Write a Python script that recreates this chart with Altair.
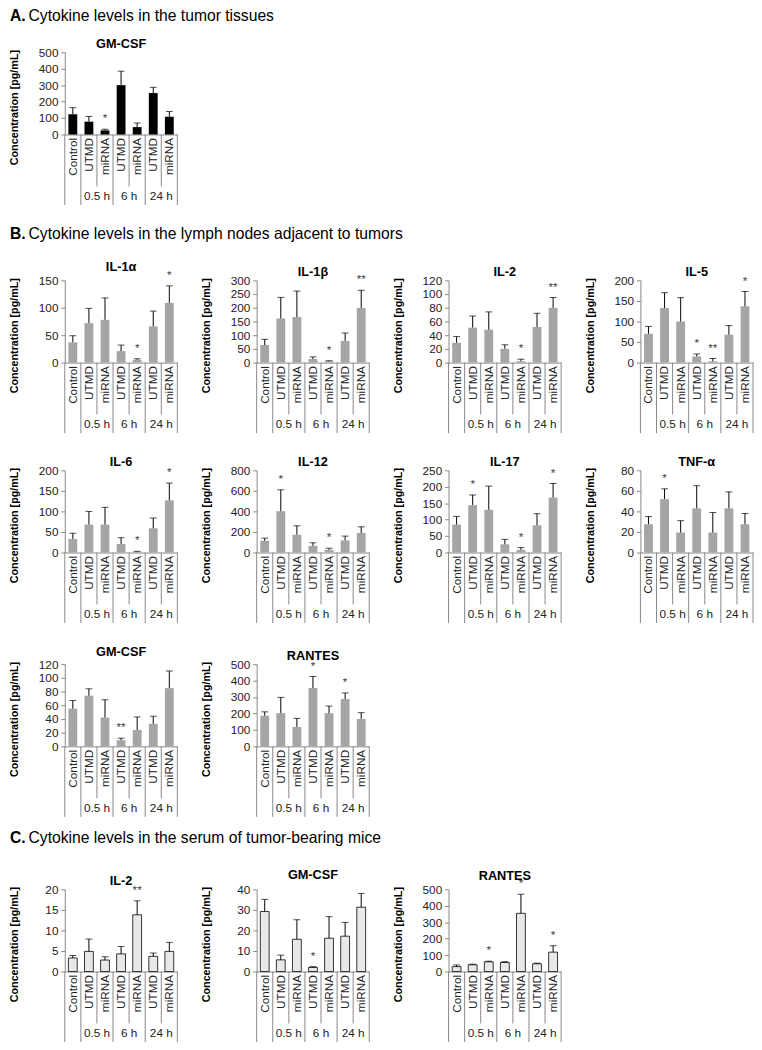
import altair as alt
import pandas as pd

FONT = "Liberation Sans"

CATS = ["Control", "UTMD", "miRNA", "UTMD", "miRNA", "UTMD", "miRNA"]
TIMES = ["", "0.5 h", "0.5 h", "6 h", "6 h", "24 h", "24 h"]
KEYS = [f"{c}|{t}" for c, t in zip(CATS, TIMES)]
GROUP_LABELS = ["0.5 h", "6 h", "24 h"]

# ---- A. tumor tissues ----
A_GMCSF_MEAN = [123, 78, 25, 300, 45, 252, 108]
A_GMCSF_ERR = [40, 32, 7, 85, 25, 35, 32]
A_GMCSF_SIG = ["", "", "*", "", "", "", ""]

# ---- B. lymph nodes ----
B_IL1A_MEAN = [37, 72, 78, 21, 5, 66, 109]
B_IL1A_ERR = [12, 27, 40, 11, 2, 28, 31]
B_IL1A_SIG = ["", "", "", "", "*", "", "*"]

B_IL1B_MEAN = [64, 161, 166, 13, 5, 79, 199]
B_IL1B_ERR = [21, 77, 95, 8, 2, 29, 65]
B_IL1B_SIG = ["", "", "", "", "*", "", "**"]

B_IL2_MEAN = [29, 51, 48, 20, 2, 52, 80]
B_IL2_ERR = [9, 17, 26, 6, 3, 20, 15]
B_IL2_SIG = ["", "", "", "", "*", "", "**"]

B_IL5_MEAN = [70, 133, 100, 15, 3, 68, 137]
B_IL5_ERR = [18, 37, 58, 6, 7, 22, 36]
B_IL5_SIG = ["", "", "", "*", "**", "", "*"]

B_IL6_MEAN = [33, 68, 68, 21, 2, 59, 127]
B_IL6_ERR = [14, 32, 42, 15, 1, 25, 42]
B_IL6_SIG = ["", "", "", "", "*", "", "*"]

B_IL12_MEAN = [114, 402, 173, 65, 26, 118, 190]
B_IL12_ERR = [26, 208, 87, 30, 16, 42, 60]
B_IL12_SIG = ["", "*", "", "", "*", "", ""]

B_IL17_MEAN = [85, 144, 130, 25, 8, 83, 167]
B_IL17_ERR = [25, 31, 72, 15, 7, 35, 43]
B_IL17_SIG = ["", "*", "", "", "*", "", "*"]

B_TNFA_MEAN = [27.5, 52, 19.5, 43, 19.5, 43, 27.5]
B_TNFA_ERR = [7.5, 10, 11.5, 22, 19.5, 16, 10.5]
B_TNFA_SIG = ["", "*", "", "", "", "", ""]

B_GMCSF_MEAN = [55, 74, 42, 9, 24, 33, 85]
B_GMCSF_ERR = [12, 10, 26, 3, 19, 11, 25]
B_GMCSF_SIG = ["", "", "", "**", "", "", ""]

B_RANTES_MEAN = [186, 202, 118, 355, 202, 288, 167]
B_RANTES_ERR = [24, 96, 52, 70, 43, 37, 38]
B_RANTES_SIG = ["", "", "", "*", "", "*", ""]

# ---- C. serum ----
C_IL2_MEAN = [3.3, 4.9, 2.8, 4.3, 13.8, 3.7, 4.9]
C_IL2_ERR = [0.6, 3.0, 0.8, 1.8, 3.4, 0.8, 2.2]
C_IL2_SIG = ["", "", "", "", "**", "", ""]

C_GMCSF_MEAN = [29.2, 5.7, 15.7, 2.0, 16.2, 17.2, 31.3]
C_GMCSF_ERR = [5.9, 2.3, 9.5, 0.4, 10.5, 6.7, 6.7]
C_GMCSF_SIG = ["", "", "", "*", "", "", ""]

C_RANTES_MEAN = [30, 41, 59, 55, 354, 47, 118]
C_RANTES_ERR = [10, 4, 4, 5, 116, 4, 39]
C_RANTES_SIG = ["", "", "*", "", "*", "", "*"]

W = 115
H = 84
LINE = "#868686"
SHORT = 53
LONG = 72
GROUP_Y = 63
LEXT = 56  # left extent of a panel (y labels + y title)


def panel(name, mean, err, sig, ymax, ystep, fill, stroke=None):
    df = pd.DataFrame({"key": KEYS, "mean": mean, "err": err, "sig": sig})
    xscale = alt.Scale(domain=KEYS, paddingInner=0, paddingOuter=0)
    xaxis = alt.Axis(title=None, labelAngle=270, labelExpr="split(datum.label, '|')[0]",
                     ticks=False, domainColor=LINE, labelFontSize=12, labelPadding=3,
                     labelColor="#222222", grid=False, labelOverlap=False, labelFont=FONT)
    yscale = alt.Scale(domain=[0, ymax], nice=False)
    yaxis = alt.Axis(title="Concentration [pg/mL]", values=list(range(0, ymax + 1, ystep)),
                     grid=False, domainColor=LINE, tickColor=LINE, tickSize=4,
                     labelFontSize=12, labelColor="#222222", labelFont=FONT, labelPadding=3,
                     titleFontSize=11, titleFontWeight="bold", titleColor="#000000",
                     titleFont=FONT, titlePadding=6, minExtent=40, maxExtent=40,
                     titleY=H / 2 + 14)

    def X(**kw):
        return alt.X("key:N", scale=xscale, axis=xaxis, **kw)

    base = alt.Chart(df).transform_calculate(upper="datum.mean + datum.err")
    bar_kw = dict(width={"band": 0.55}, fill=fill)
    if stroke:
        bar_kw.update(stroke=stroke, strokeWidth=0.8)
    bars = base.mark_bar(**bar_kw).encode(
        x=X(), y=alt.Y("mean:Q", scale=yscale, axis=yaxis))
    err_line = base.mark_rule(color="black", strokeWidth=1).encode(
        x=X(), y=alt.Y("mean:Q", scale=yscale, axis=yaxis), y2="upper:Q")
    cap = base.mark_tick(color="black", thickness=1, size=7).encode(
        x=X(), y=alt.Y("upper:Q", scale=yscale, axis=yaxis))
    stars = base.mark_text(baseline="middle", dy=-11, fontSize=12, color="#404040",
                           font=FONT).encode(
        x=X(), y=alt.Y("upper:Q", scale=yscale, axis=yaxis), text="sig:N")

    short_df = pd.DataFrame({"key": [KEYS[2], KEYS[4], KEYS[6]]})
    long_df = pd.DataFrame({"key": [KEYS[0], KEYS[1], KEYS[3], KEYS[5]]})
    end_df = pd.DataFrame({"key": [KEYS[6]]})
    grp_df = pd.DataFrame({"key": [KEYS[1], KEYS[3], KEYS[5]], "lab": GROUP_LABELS})

    sep_short = alt.Chart(short_df).mark_rule(color=LINE, strokeWidth=1).encode(
        x=X(bandPosition=0), y=alt.value(H), y2=alt.value(H + SHORT))
    sep_long = alt.Chart(long_df).mark_rule(color=LINE, strokeWidth=1).encode(
        x=X(bandPosition=0), y=alt.value(H), y2=alt.value(H + LONG))
    sep_end = alt.Chart(end_df).mark_rule(color=LINE, strokeWidth=1).encode(
        x=X(bandPosition=1), y=alt.value(H), y2=alt.value(H + LONG))
    grp = alt.Chart(grp_df).mark_text(baseline="middle", fontSize=12, color="#222222",
                                       font=FONT).encode(
        x=X(bandPosition=1), y=alt.value(H + GROUP_Y), text="lab:N")

    return alt.layer(bars, err_line, cap, stars, sep_short, sep_long, sep_end, grp).properties(
        width=W, height=H,
        title=alt.Title(name, fontSize=13, fontWeight="bold", font=FONT, offset=-5,
                        frame="group", anchor="middle", color="#000000"))


def header(letter, text, h=16):
    df = pd.DataFrame({"a": [letter], "b": [text]})
    c1 = alt.Chart(df).mark_text(align="left", baseline="middle", fontSize=16,
                                 fontWeight="bold", font=FONT, color="#000000").encode(
        x=alt.value(-LEXT), y=alt.value(h / 2), text="a:N")
    c2 = alt.Chart(df).mark_text(align="left", baseline="middle", fontSize=16,
                                 font=FONT, color="#000000").encode(
        x=alt.value(-LEXT + 19), y=alt.value(h / 2), text="b:N")
    return alt.layer(c1, c2).properties(width=600, height=h)


BLACK = "#000000"
GRAY = "#a5a5a5"
DOT = "#e8e8e8"
SP = 22

rowA = alt.hconcat(panel("GM-CSF", A_GMCSF_MEAN, A_GMCSF_ERR, A_GMCSF_SIG, 500, 100, BLACK))
rowB1 = alt.hconcat(
    panel("IL-1α", B_IL1A_MEAN, B_IL1A_ERR, B_IL1A_SIG, 150, 50, GRAY),
    panel("IL-1β", B_IL1B_MEAN, B_IL1B_ERR, B_IL1B_SIG, 300, 50, GRAY),
    panel("IL-2", B_IL2_MEAN, B_IL2_ERR, B_IL2_SIG, 120, 20, GRAY),
    panel("IL-5", B_IL5_MEAN, B_IL5_ERR, B_IL5_SIG, 200, 50, GRAY),
    spacing=SP)
rowB2 = alt.hconcat(
    panel("IL-6", B_IL6_MEAN, B_IL6_ERR, B_IL6_SIG, 200, 50, GRAY),
    panel("IL-12", B_IL12_MEAN, B_IL12_ERR, B_IL12_SIG, 800, 200, GRAY),
    panel("IL-17", B_IL17_MEAN, B_IL17_ERR, B_IL17_SIG, 250, 50, GRAY),
    panel("TNF-α", B_TNFA_MEAN, B_TNFA_ERR, B_TNFA_SIG, 80, 20, GRAY),
    spacing=SP)
rowB3 = alt.hconcat(
    panel("GM-CSF", B_GMCSF_MEAN, B_GMCSF_ERR, B_GMCSF_SIG, 120, 20, GRAY),
    panel("RANTES", B_RANTES_MEAN, B_RANTES_ERR, B_RANTES_SIG, 500, 100, GRAY),
    spacing=SP)
rowC = alt.hconcat(
    panel("IL-2", C_IL2_MEAN, C_IL2_ERR, C_IL2_SIG, 20, 5, DOT, "#000000"),
    panel("GM-CSF", C_GMCSF_MEAN, C_GMCSF_ERR, C_GMCSF_SIG, 40, 10, DOT, "#000000"),
    panel("RANTES", C_RANTES_MEAN, C_RANTES_ERR, C_RANTES_SIG, 500, 100, DOT, "#000000"),
    spacing=SP)

headA = header("A.", "Cytokine levels in the tumor tissues")
headB = header("B.", "Cytokine levels in the lymph nodes adjacent to tumors")
headC = header("C.", "Cytokine levels in the serum of tumor-bearing mice")

v1 = alt.vconcat(headA, rowA, spacing=15)
v2 = alt.vconcat(headB, rowB1, spacing=19)
v3 = alt.vconcat(v2, rowB2, rowB3, spacing=23)
v4 = alt.vconcat(headC, rowC, spacing=23)
chart = alt.vconcat(alt.vconcat(v1, v3, spacing=21), v4, spacing=13,
                    padding={"top": -11, "left": 0, "right": 0, "bottom": 0})

chart = chart.configure_view(strokeWidth=0, stroke="transparent")

chart.save("out.html", embed_options={"renderer": "svg", "actions": False})
